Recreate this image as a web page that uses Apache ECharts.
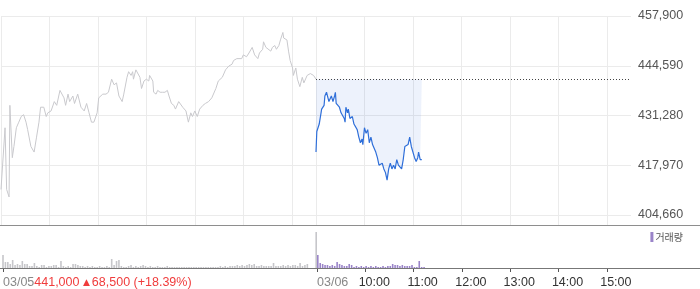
<!DOCTYPE html>
<html><head><meta charset="utf-8">
<script src="https://cdn.jsdelivr.net/npm/echarts@6/dist/echarts.min.js"></script>
<style>html,body{margin:0;padding:0;background:#fff}#c{width:700px;height:289px}</style>
</head><body><div id="c"></div>
<script>
// ---- data ----
const dayLabels = ['03/05', '03/06'];
const changeParts = ['441,000', '▲', '68,500 (+18.39%)'];
const prevClose = 441000;
const yTicks = [404660, 417970, 431280, 444590, 457900];
const gridHours = ['09:00','10:00','11:00','12:00','13:00','14:00','15:00'];
const hourLabels = ['10:00','11:00','12:00','13:00','14:00','15:00'];

const prevTimes = ['09:00','09:05','09:07','09:10','09:11','09:14','09:16','09:19','09:22','09:25','09:28','09:31','09:33','09:37','09:41','09:44','09:47','09:49','09:53','09:56','09:58','10:02','10:06','10:09','10:13','10:18','10:20','10:23','10:25','10:29','10:31','10:35','10:39','10:43','10:46','10:49','10:52','10:55','10:59','11:01','11:06','11:10','11:13','11:17','11:20','11:23','11:26','11:30','11:32','11:36','11:38','11:41','11:43','11:44','11:47','11:49','11:52','11:54','11:57','12:00','12:03','12:04','12:08','12:09','12:12','12:14','12:17','12:20','12:23','12:26','12:28','12:31','12:34','12:36','12:40','12:42','12:45','12:49','12:52','12:55','12:57','13:00','13:03','13:06','13:10','13:13','13:17','13:21','13:23','13:26','13:29','13:34','13:38','13:42','13:46','13:48','13:52','13:54','13:58','14:00','14:04','14:07','14:11','14:14','14:18','14:20','14:24','14:25','14:28','14:30','14:34','14:36','14:39','14:41','14:44','14:46','14:49','14:50','14:54','14:56','14:58','15:01','15:02','15:05','15:07','15:10','15:13','15:15','15:17','15:19','15:23','15:27','15:30'];
const prevPrices = [411500,428000,411500,409500,434000,420000,423000,428000,429500,431000,431500,429500,427500,423000,421500,425500,429500,433500,433500,431000,432000,432500,435000,434000,438000,436000,434000,437000,435000,436500,434500,437000,433500,432500,434500,432000,429500,429500,432000,436000,437000,437000,437500,441000,439500,440000,436500,435000,437000,441500,443000,442000,443000,441000,443500,444000,441500,438500,440500,441000,440500,442000,440500,437500,437000,438000,437500,437500,437500,438000,436500,434500,434000,433000,435000,434500,433500,432500,429500,432000,431000,432500,431000,433000,434000,434500,435000,436000,436500,438500,440500,441500,443500,444500,445000,446000,446500,447000,446500,447500,447000,448000,449500,447500,446500,448000,449000,451000,449500,449000,448500,449500,450000,449000,450000,451500,453500,452000,451500,448500,446000,444000,442000,444000,441000,439000,441500,440000,440500,442000,442500,442000,441000];

const todayTimes = ['09:00','09:01','09:04','09:05','09:07','09:10','09:11','09:13','09:15','09:16','09:19','09:21','09:23','09:24','09:25','09:27','09:29','09:31','09:33','09:35','09:36','09:37','09:39','09:40','09:42','09:45','09:47','09:49','09:51','09:53','09:55','09:57','09:58','10:00','10:02','10:04','10:06','10:08','10:10','10:12','10:14','10:16','10:18','10:20','10:22','10:24','10:26','10:28','10:30','10:32','10:34','10:36','10:38','10:40','10:42','10:44','10:46','10:48','10:50','10:52','10:54','10:56','10:58','11:00','11:02','11:04','11:06','11:07','11:09','11:11'];
const todayPrices = [421500,427000,429000,428500,433000,434000,436500,437500,437000,435000,436500,435000,436500,437500,434500,434000,433500,432000,432500,430500,429500,433500,432000,433000,430500,431000,429000,429500,427500,425500,424000,425000,423500,428000,426500,427500,424000,425500,423500,424000,421500,420000,418000,417500,418500,417000,416000,414000,417000,418500,417000,418000,417000,419500,418000,417500,417000,419500,423000,422500,423500,425500,423000,422500,420000,419000,420000,421500,419500,419500];

// volume (thousand shares), 3-minute bins from 09:00
const prevVolumes = [26,12,12,8,16,6,8,6,14,8, 8,4,4,10,4,2,6,6,2,4, 4,6,6,2,14,4,2,4,2,8, 8,6,4,4,2,4,2,4,2,2, 4,2,2,4,2,18,6,14,16,4, 2,2,4,6,2,4,2,4,6,4, 2,4,2,2,4,2,2,2,4,2, 2,2,2,2,2,2,2,2,2,2, 2,2,2,2,2,2,2,2,2,2, 4,2,4,2,4,4,4,6,4,6, 4,6,8,6,8,4,4,6,4,4, 4,4,10,4,4,4,6,4,6,4, 6,6,4,10,4,6,8,0,0,0];
const prevCloseAuctionTime = '15:29';
const prevCloseAuctionVolume = 72;
const todayVolumes = [26,10,8,6,6,4,6,4,12,8, 6,4,4,8,6,2,4,2,4,2, 4,2,4,2,4,2,2,4,2,4, 4,8,6,6,4,6,4,4,4,6, 2,2,14,2,2];

// ---- helpers ----
function toMin(t, day) { const [h, m] = t.split(':').map(Number); return (h - 9) * 60 + m + day * 390; }
function binTime(i, offset) { const m = i * 3 + offset; const h = 9 + Math.floor(m / 60), mm = m % 60; return (h < 10 ? '0' : '') + h + ':' + (mm < 10 ? '0' : '') + mm; }
const fmt = v => Math.round(v).toLocaleString('en-US');

const prevData = prevTimes.map((t, i) => [toMin(t, 0), prevPrices[i]]);
const todayData = todayTimes.map((t, i) => [toMin(t, 1), todayPrices[i]]);
const prevVolData = prevVolumes.map((v, i) => [toMin(binTime(i, 0), 0), v]);
prevVolData.push([toMin(prevCloseAuctionTime, 0), prevCloseAuctionVolume]);
const todayVolData = todayVolumes.map((v, i) => [toMin(binTime(i, 1), 1), v]);

const gridMinutes = gridHours.map(t => toMin(t, 0)).concat(gridHours.map(t => toMin(t, 1)));
const dayTicks = [toMin('09:00', 0), toMin('09:00', 1)];
const hourTicks = hourLabels.map(t => toMin(t, 1));

const FONT = 'Liberation Sans, Arial, sans-serif';
const chart = echarts.init(document.getElementById('c'), null, { renderer: 'canvas' });
chart.setOption({
  animation: false,
  textStyle: { fontFamily: FONT },
  grid: [
    { left: 1, right: 69, top: 16, bottom: 64 },
    { left: 1, right: 69, top: 226, bottom: 21 }
  ],
  legend: {
    data: ['거래량'], right: 17, top: 232, padding: 0, selectedMode: false,
    icon: 'rect', itemWidth: 3, itemHeight: 10, itemGap: 0,
    textStyle: { fontSize: 10, color: '#555', fontFamily: 'Noto Sans CJK KR', padding: [0, 0, 0, -3] }
  },
  xAxis: [
    { gridIndex: 0, type: 'value', min: 0, max: 780,
      axisLine: { show: false }, axisTick: { show: false, customValues: gridMinutes },
      axisLabel: { show: false, customValues: gridMinutes },
      splitLine: { show: true, lineStyle: { color: '#ebebeb', width: 1 } } },
    { gridIndex: 1, type: 'value', min: 0, max: 780, position: 'bottom',
      axisLine: { show: false },
      axisTick: { show: true, customValues: dayTicks, length: 4, lineStyle: { color: '#555' } },
      axisLabel: { customValues: dayTicks, align: 'left', margin: 8,
        formatter: v => v === 0
          ? '{d|' + dayLabels[0] + '}{r|' + changeParts[0] + ' }{t|' + changeParts[1] + '}{r|' + changeParts[2] + '}'
          : '{d|' + dayLabels[1] + '}',
        rich: {
          d: { fontSize: 12.5, color: '#888', fontFamily: FONT },
          r: { fontSize: 12.5, color: '#f03c3c', fontFamily: FONT },
          t: { fontSize: 9, color: '#f03c3c', fontFamily: 'DejaVu Sans', padding: [0, 2, 0, 0] }
        } },
      splitLine: { show: false } },
    { gridIndex: 1, type: 'value', min: 0, max: 780, position: 'bottom',
      axisLine: { show: false },
      axisTick: { show: true, customValues: hourTicks, length: 4, lineStyle: { color: '#555' } },
      axisLabel: { customValues: hourTicks, margin: 8, fontSize: 12.5, color: '#333', padding: [0, 0, 0, 18],
        formatter: v => hourLabels[hourTicks.indexOf(Math.round(v))] || '' },
      splitLine: { show: false } }
  ],
  yAxis: [
    { gridIndex: 0, type: 'value', position: 'right', min: 401990, max: 457900, scale: true,
      axisLine: { show: false }, axisTick: { show: false, customValues: yTicks },
      axisLabel: { customValues: yTicks, formatter: fmt, margin: 7, fontSize: 12.5, color: '#555' },
      splitLine: { show: true, lineStyle: { color: '#ebebeb', width: 1 } } },
    { gridIndex: 1, type: 'value', min: 0, max: 84, show: false, splitLine: { show: false } }
  ],
  graphic: [
    { type: 'line', shape: { x1: 0, y1: 225.5, x2: 700, y2: 225.5 }, style: { stroke: '#8e8e8e', lineWidth: 1 }, z: 10 },
    { type: 'line', shape: { x1: 0, y1: 268.5, x2: 700, y2: 268.5 }, style: { stroke: '#777', lineWidth: 1 }, z: 10 }
  ],
  series: [
    { name: 'prev', type: 'line', xAxisIndex: 0, yAxisIndex: 0, data: prevData,
      symbol: 'none', silent: true, lineStyle: { color: '#c9c9cd', width: 1 } },
    { name: 'today', type: 'line', xAxisIndex: 0, yAxisIndex: 0, data: todayData,
      symbol: 'none', silent: true, lineStyle: { color: '#2f6fd9', width: 1.2 },
      areaStyle: { origin: prevClose, color: 'rgba(50,110,215,0.12)' },
      markLine: { silent: true, symbol: ['none', 'none'], label: { show: false },
        lineStyle: { type: [1, 2], color: '#444', width: 1 },
        data: [[{ coord: [toMin('09:00', 1), prevClose] }, { coord: [780, prevClose] }]] } },
    { name: 'prevVol', type: 'bar', xAxisIndex: 1, yAxisIndex: 1, data: prevVolData,
      barWidth: 1.6, barGap: '-100%', silent: true, itemStyle: { color: '#c6c6ca' } },
    { name: '거래량', type: 'bar', xAxisIndex: 1, yAxisIndex: 1, data: todayVolData,
      barWidth: 1.6, barGap: '-100%', silent: true, itemStyle: { color: '#9a84c9' } }
  ]
});
</script></body></html>
